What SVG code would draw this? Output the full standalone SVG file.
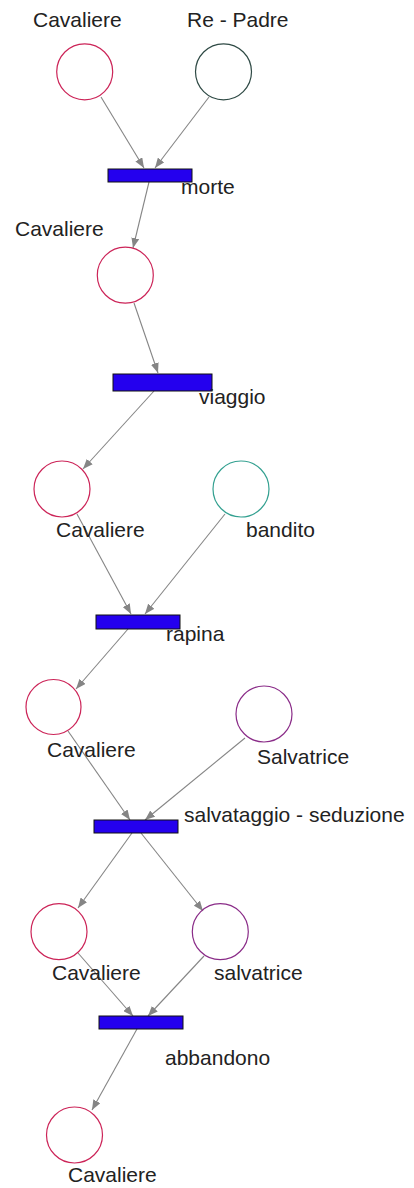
<svg xmlns="http://www.w3.org/2000/svg" width="414" height="1188" viewBox="0 0 414 1188">
<style>
.lbl{font-family:"Liberation Sans",Arial,sans-serif;font-size:21px;fill:#222}
.pl{fill:none;stroke-width:1.2}
.cav{stroke:#cc2458}
.re{stroke:#2f4a45}
.ban{stroke:#33a090}
.sal{stroke:#8a2c88}
.tr{fill:#2400ee;stroke:#111;stroke-width:1}
.arc{stroke:#858585;stroke-width:1.1;fill:none;marker-end:url(#ah)}
</style>
<defs>
<marker id="ah" markerUnits="userSpaceOnUse" markerWidth="10" markerHeight="8" refX="10" refY="4" orient="auto">
<path d="M0,0 L10,4 L0,8 z" fill="#858585"/>
</marker>
</defs>
<rect width="414" height="1188" fill="#fff"/>
<g id="connectors">
<line class="arc" x1="101" y1="97" x2="144" y2="168"/>
<line class="arc" x1="209" y1="97" x2="155" y2="168"/>
<line class="arc" x1="149" y1="182" x2="133" y2="248"/>
<line class="arc" x1="134" y1="303" x2="158" y2="373"/>
<line class="arc" x1="154" y1="391" x2="83" y2="469"/>
<line class="arc" x1="77" y1="514" x2="131" y2="614"/>
<line class="arc" x1="225" y1="514" x2="145" y2="614"/>
<line class="arc" x1="128" y1="629" x2="76" y2="689"/>
<line class="arc" x1="68" y1="731" x2="130" y2="820"/>
<line class="arc" x1="245" y1="738" x2="145" y2="820"/>
<line class="arc" x1="132" y1="833" x2="78" y2="908"/>
<line class="arc" x1="141" y1="833" x2="203" y2="911"/>
<line class="arc" x1="78" y1="953" x2="133" y2="1016"/>
<line class="arc" x1="204" y1="956" x2="148" y2="1016"/>
<line class="arc" x1="137" y1="1029" x2="92" y2="1110"/>
</g>
<g id="p_cavaliere1"><circle class="pl cav" cx="84.7" cy="71.8" r="28"/><text class="lbl" x="33" y="27">Cavaliere</text></g>
<g id="p_repadre"><circle class="pl re" cx="223.5" cy="71.8" r="28"/><text class="lbl" x="187" y="27">Re - Padre</text></g>
<g id="t_morte"><rect class="tr" x="108" y="169" width="84" height="13"/><text class="lbl" x="181" y="194">morte</text></g>
<g id="p_cavaliere2"><circle class="pl cav" cx="125.3" cy="275.2" r="28"/><text class="lbl" x="15" y="236">Cavaliere</text></g>
<g id="t_viaggio"><rect class="tr" x="113" y="374" width="99" height="17"/><text class="lbl" x="199" y="404">viaggio</text></g>
<g id="p_cavaliere3"><circle class="pl cav" cx="62" cy="489" r="28"/><text class="lbl" x="56" y="537">Cavaliere</text></g>
<g id="p_bandito"><circle class="pl ban" cx="241" cy="489" r="28"/><text class="lbl" x="246" y="537">bandito</text></g>
<g id="t_rapina"><rect class="tr" x="96" y="615" width="84" height="14"/><text class="lbl" x="166" y="641">rapina</text></g>
<g id="p_cavaliere4"><circle class="pl cav" cx="53.5" cy="707" r="27.5"/><text class="lbl" x="47" y="757">Cavaliere</text></g>
<g id="p_salvatrice1"><circle class="pl sal" cx="264" cy="714" r="28"/><text class="lbl" x="257" y="764">Salvatrice</text></g>
<g id="t_salvataggio"><rect class="tr" x="94" y="820" width="84" height="13"/><text class="lbl" x="184" y="822">salvataggio - seduzione</text></g>
<g id="p_cavaliere5"><circle class="pl cav" cx="59" cy="931.7" r="28"/><text class="lbl" x="52" y="980">Cavaliere</text></g>
<g id="p_salvatrice2"><circle class="pl sal" cx="220.3" cy="931.7" r="28"/><text class="lbl" x="214" y="980">salvatrice</text></g>
<g id="t_abbandono"><rect class="tr" x="99" y="1016" width="84" height="13"/><text class="lbl" x="165" y="1065">abbandono</text></g>
<g id="p_cavaliere6"><circle class="pl cav" cx="74.5" cy="1135" r="28"/><text class="lbl" x="68" y="1182">Cavaliere</text></g>
</svg>
